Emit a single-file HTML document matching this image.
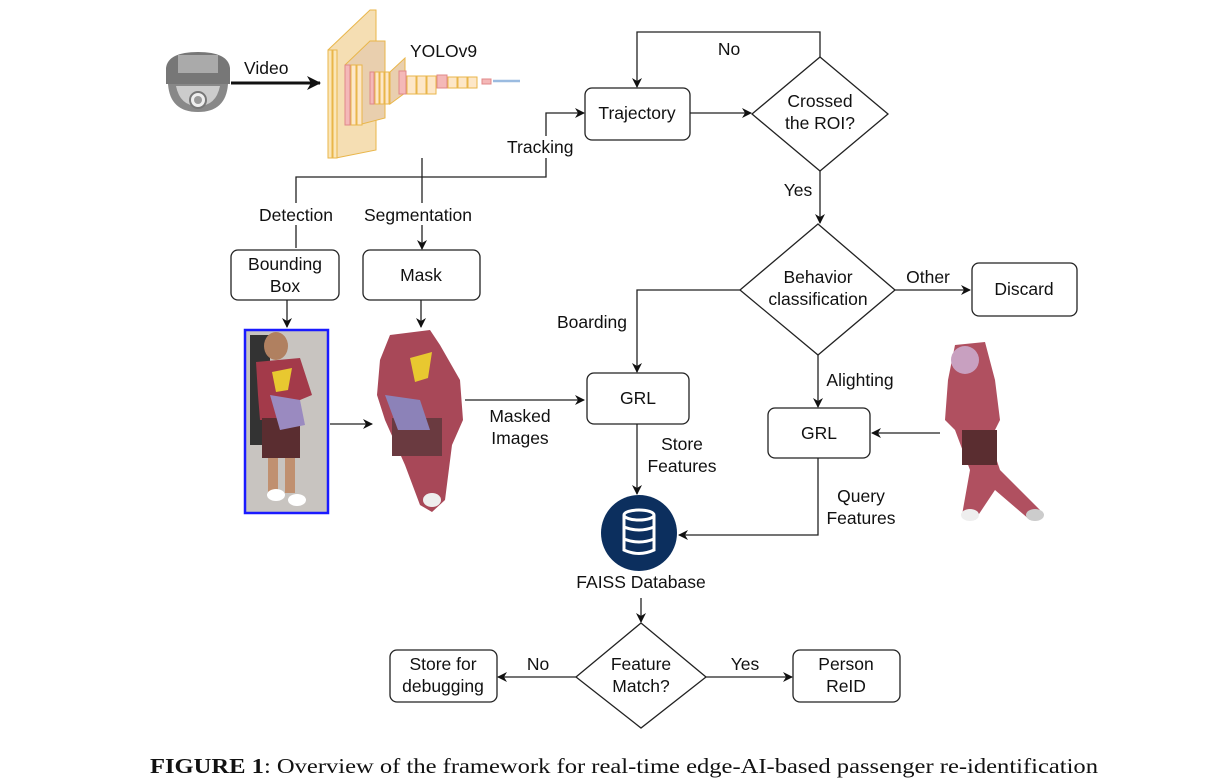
<!DOCTYPE html>
<html><head><meta charset="utf-8"><style>
html,body{margin:0;padding:0;background:#fff;}
svg{display:block;}
text{font-family:"Liberation Sans",sans-serif;font-size:17.5px;fill:#111;}
</style></head><body>
<svg width="1221" height="784" viewBox="0 0 1221 784" xmlns="http://www.w3.org/2000/svg">
<defs>
<marker id="a" markerWidth="10" markerHeight="10" refX="9" refY="5" orient="auto" markerUnits="userSpaceOnUse"><path d="M0,0 L10,5 L0,10 L3,5 Z" fill="#111"/></marker>
<marker id="b" markerWidth="14" markerHeight="14" refX="13" refY="7" orient="auto" markerUnits="userSpaceOnUse"><path d="M0,0 L14,7 L0,14 L4,7 Z" fill="#111"/></marker>
</defs>
<g>
<path d="M166,68 Q168,52 198,52 Q228,52 230,68 L230,84 L166,84 Z" fill="#777"/>
<rect x="178" y="55" width="40" height="18" fill="#aaa"/>
<path d="M168,84 Q170,112 198,112 Q226,112 228,84 Z" fill="#888"/>
<path d="M176,86 Q180,106 198,106 Q216,106 220,86 Z" fill="#ccc"/>
<circle cx="198" cy="100" r="8" fill="#eee" stroke="#777" stroke-width="2"/>
<circle cx="198" cy="100" r="4" fill="#999"/>
</g>
<line x1="231" y1="83" x2="320" y2="83" stroke="#111" stroke-width="3" marker-end="url(#b)"/>
<text x="244" y="74">Video</text>
<g stroke="#e9b64a" stroke-width="1">
<polygon points="328,50 370,10 376,10 376,150 336,158 328,158" fill="#f5deb3"/>
<rect x="328" y="50" width="4" height="108" fill="#fbe6b8"/>
<rect x="333" y="50" width="4" height="108" fill="#fbe6b8"/>
<polygon points="345,65 370,41 385,41 385,118 358,125 345,125" fill="#e9cfae"/>
<rect x="345" y="65" width="5" height="60" fill="#f4b8b8" stroke="#e08888"/>
<rect x="351" y="65" width="5" height="60" fill="#fde7c8"/>
<rect x="357" y="65" width="5" height="60" fill="#fde7c8"/>
<rect x="370" y="72" width="4" height="32" fill="#f4b8b8" stroke="#e08888"/>
<rect x="375" y="72" width="4" height="32" fill="#fde7c8"/>
<rect x="380" y="72" width="4" height="32" fill="#fde7c8"/>
<rect x="385" y="72" width="4" height="32" fill="#fde7c8"/>
<polygon points="390,72 405,58 405,93 390,104" fill="#e9cfae"/>
<rect x="399" y="71" width="7" height="23" fill="#f4b8b8" stroke="#e08888"/>
<rect x="407" y="76" width="9" height="18" fill="#fde7c8"/>
<rect x="417" y="76" width="9" height="18" fill="#fde7c8"/>
<rect x="427" y="76" width="9" height="18" fill="#fde7c8"/>
<rect x="437" y="75" width="10" height="13" fill="#f4b8b8" stroke="#e08888"/>
<rect x="448" y="77" width="9" height="11" fill="#fde7c8"/>
<rect x="458" y="77" width="9" height="11" fill="#fde7c8"/>
<rect x="468" y="77" width="9" height="11" fill="#fde7c8"/>
<rect x="482" y="79" width="9" height="5" fill="#f4b8b8" stroke="#e08888"/>
</g>
<line x1="493" y1="81" x2="520" y2="81" stroke="#9bbbe0" stroke-width="2.5"/>
<text x="410" y="57">YOLOv9</text>
<g stroke="#222" stroke-width="1.3" fill="none">
<line x1="422" y1="158" x2="422" y2="249" marker-end="url(#a)"/>
<polyline points="296,248 296,177 546,177 546,113 584,113" marker-end="url(#a)"/>
<line x1="287" y1="300" x2="287" y2="327" marker-end="url(#a)"/>
<line x1="421" y1="300" x2="421" y2="327" marker-end="url(#a)"/>
<line x1="330" y1="424" x2="372" y2="424" marker-end="url(#a)"/>
<line x1="465" y1="400" x2="584" y2="400" marker-end="url(#a)"/>
</g>
<rect x="504" y="136" width="76" height="22" fill="#fff"/>
<text x="507" y="153">Tracking</text>
<rect x="257" y="203" width="82" height="22" fill="#fff"/>
<text x="259" y="221">Detection</text>
<rect x="362" y="203" width="118" height="22" fill="#fff"/>
<text x="364" y="221">Segmentation</text>
<g stroke="#222" stroke-width="1.3" fill="#fff">
<rect x="231" y="250" width="108" height="50" rx="7"/>
<rect x="363" y="250" width="117" height="50" rx="7"/>
</g>
<text x="285" y="270" text-anchor="middle">Bounding</text>
<text x="285" y="292" text-anchor="middle">Box</text>
<text x="421" y="281" text-anchor="middle">Mask</text>
<rect x="245" y="330" width="83" height="183" fill="#c8c4c0" stroke="#1a1aff" stroke-width="2.5"/>
<rect x="250" y="335" width="20" height="110" fill="#333"/>
<g>
<ellipse cx="276" cy="346" rx="12" ry="14" fill="#b08060"/>
<path d="M256,362 L300,358 L312,395 L300,400 L298,420 L260,420 L258,395 Z" fill="#a33a4a"/>
<path d="M272,372 L292,368 L288,390 L276,392 Z" fill="#e8c830"/>
<rect x="262" y="418" width="38" height="40" fill="#5a2d30"/>
<rect x="268" y="458" width="10" height="35" fill="#c09070"/>
<rect x="285" y="458" width="10" height="35" fill="#c09070"/>
<ellipse cx="276" cy="495" rx="9" ry="6" fill="#fff"/>
<ellipse cx="297" cy="500" rx="9" ry="6" fill="#fff"/>
<path d="M270,395 L300,400 L305,425 L280,430 Z" fill="#9a8ac0"/>
</g>
<g>
<path d="M390,335 L430,330 L440,345 L460,380 L463,420 L452,445 L445,500 L432,512 L420,505 L405,465 L385,420 L377,395 L380,360 Z" fill="#a84858"/>
<path d="M410,358 L432,352 L428,378 L415,382 Z" fill="#e8c830"/>
<rect x="392" y="418" width="50" height="38" fill="#6a3a40"/>
<path d="M385,395 L420,400 L430,430 L398,430 Z" fill="#8c82b8"/>
<ellipse cx="432" cy="500" rx="9" ry="7" fill="#eee"/>
</g>
<g>
<path d="M955,345 L985,342 L995,380 L1000,420 L990,440 L1000,470 L1040,510 L1030,520 L995,490 L975,520 L962,515 L970,470 L955,430 L945,420 L948,380 Z" fill="#b05060"/>
<ellipse cx="965" cy="360" rx="14" ry="14" fill="#c8a0c0"/>
<rect x="962" y="430" width="35" height="35" fill="#5a2d30"/>
<ellipse cx="970" cy="515" rx="9" ry="6" fill="#eee"/>
<ellipse cx="1035" cy="515" rx="9" ry="6" fill="#ccc"/>
</g>
<g stroke="#222" stroke-width="1.3" fill="none">
<line x1="690" y1="113" x2="751" y2="113" marker-end="url(#a)"/>
<polyline points="820,57 820,32 637,32 637,87" marker-end="url(#a)"/>
<line x1="820" y1="171" x2="820" y2="223" marker-end="url(#a)"/>
<line x1="895" y1="290" x2="970" y2="290" marker-end="url(#a)"/>
<polyline points="740,290 637,290 637,372" marker-end="url(#a)"/>
<line x1="818" y1="355" x2="818" y2="407" marker-end="url(#a)"/>
<line x1="940" y1="433" x2="872" y2="433" marker-end="url(#a)"/>
<line x1="637" y1="424" x2="637" y2="494" marker-end="url(#a)"/>
<polyline points="818,458 818,535 679,535" marker-end="url(#a)"/>
<line x1="641" y1="598" x2="641" y2="622" marker-end="url(#a)"/>
<line x1="576" y1="677" x2="498" y2="677" marker-end="url(#a)"/>
<line x1="706" y1="677" x2="792" y2="677" marker-end="url(#a)"/>
</g>
<g stroke="#222" stroke-width="1.3" fill="#fff">
<rect x="585" y="88" width="105" height="52" rx="7"/>
<polygon points="820,57 888,114 820,171 752,114"/>
<polygon points="818,224 895,290 818,355 740,290"/>
<rect x="972" y="263" width="105" height="53" rx="7"/>
<rect x="587" y="373" width="102" height="51" rx="7"/>
<rect x="768" y="408" width="102" height="50" rx="7"/>
<polygon points="641,623 706,677 641,728 576,677"/>
<rect x="390" y="650" width="107" height="52" rx="7"/>
<rect x="793" y="650" width="107" height="52" rx="7"/>
</g>
<text x="637" y="119" text-anchor="middle">Trajectory</text>
<text x="820" y="107" text-anchor="middle">Crossed</text>
<text x="820" y="129" text-anchor="middle">the ROI?</text>
<text x="729" y="55" text-anchor="middle">No</text>
<text x="798" y="196" text-anchor="middle">Yes</text>
<text x="818" y="283" text-anchor="middle">Behavior</text>
<text x="818" y="305" text-anchor="middle">classification</text>
<text x="928" y="283" text-anchor="middle">Other</text>
<text x="1024" y="295" text-anchor="middle">Discard</text>
<text x="592" y="328" text-anchor="middle">Boarding</text>
<text x="860" y="386" text-anchor="middle">Alighting</text>
<text x="638" y="404" text-anchor="middle">GRL</text>
<text x="819" y="439" text-anchor="middle">GRL</text>
<text x="520" y="422" text-anchor="middle">Masked</text>
<text x="520" y="444" text-anchor="middle">Images</text>
<text x="682" y="450" text-anchor="middle">Store</text>
<text x="682" y="472" text-anchor="middle">Features</text>
<text x="861" y="502" text-anchor="middle">Query</text>
<text x="861" y="524" text-anchor="middle">Features</text>
<circle cx="639" cy="533" r="38" fill="#0c2f5e"/>
<g stroke="#fff" stroke-width="3" fill="none">
<ellipse cx="639" cy="515" rx="15" ry="5"/>
<path d="M624,515 L624,550 Q639,557 654,550 L654,515"/>
<path d="M624,527 Q639,533 654,527"/>
<path d="M624,539 Q639,545 654,539"/>
</g>
<text x="641" y="588" text-anchor="middle">FAISS Database</text>
<text x="641" y="670" text-anchor="middle">Feature</text>
<text x="641" y="692" text-anchor="middle">Match?</text>
<text x="538" y="670" text-anchor="middle">No</text>
<text x="745" y="670" text-anchor="middle">Yes</text>
<text x="443" y="670" text-anchor="middle">Store for</text>
<text x="443" y="692" text-anchor="middle">debugging</text>
<text x="846" y="670" text-anchor="middle">Person</text>
<text x="846" y="692" text-anchor="middle">ReID</text>
<text x="150" y="773" textLength="948" lengthAdjust="spacingAndGlyphs" style="font-family:'Liberation Serif',serif;font-size:21px"><tspan font-weight="bold">FIGURE 1</tspan>: Overview of the framework for real-time edge-AI-based passenger re-identification</text>
</svg>
</body></html>
